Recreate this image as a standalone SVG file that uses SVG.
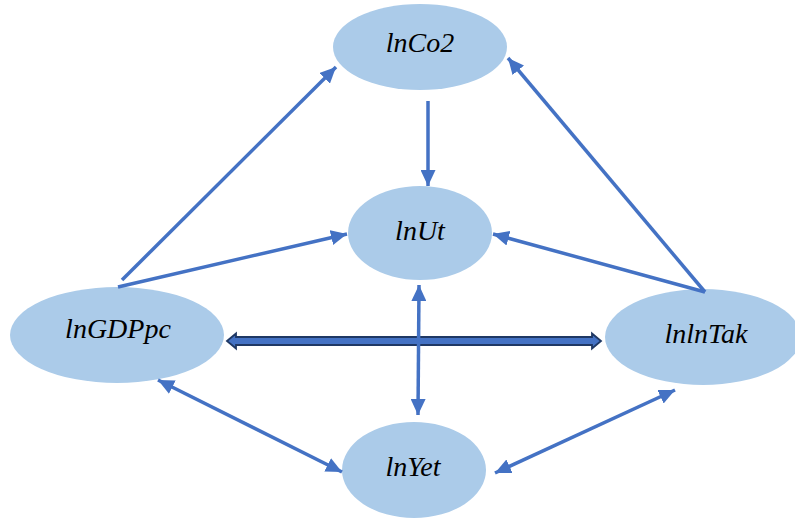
<svg xmlns="http://www.w3.org/2000/svg" width="795" height="524" viewBox="0 0 795 524">
<defs>
<style>
.node{fill:#ABCBE9;}
.lbl{font-family:"Liberation Serif",serif;font-style:italic;font-size:28px;fill:#000;text-anchor:middle;}
.edge{stroke:#4472C4;stroke-width:3.5;fill:none;}
</style>
<marker id="ah" viewBox="0 0 16 15" refX="16" refY="7.5" markerWidth="16" markerHeight="15" markerUnits="userSpaceOnUse" orient="auto-start-reverse">
<path d="M0,0 L16,7.5 L0,15 Z" fill="#4472C4"/>
</marker>
</defs>
<rect width="795" height="524" fill="#fff"/>
<g id="n-lnCo2"><ellipse class="node" cx="420" cy="47" rx="87" ry="43"/><text class="lbl" x="420" y="52">lnCo2</text></g>
<g id="n-lnUt"><ellipse class="node" cx="420" cy="233" rx="72" ry="47"/><text class="lbl" x="420" y="240">lnUt</text></g>
<g id="n-lnGDPpc"><ellipse class="node" cx="117" cy="335" rx="107" ry="48"/><text class="lbl" x="118" y="338">lnGDPpc</text></g>
<g id="n-lnlnTak"><ellipse class="node" cx="703" cy="337" rx="98" ry="48"/><text class="lbl" x="706" y="343">lnlnTak</text></g>
<g id="n-lnYet"><ellipse class="node" cx="414" cy="470" rx="72" ry="48"/><text class="lbl" x="413" y="476">lnYet</text></g>
<g id="connectors">
<path d="M227,341 L236,333.5 L236,337 L592,337 L592,333.5 L601,341 L592,348.5 L592,345 L236,345 L236,348.5 Z" fill="#4472C4" stroke="#1F3864" stroke-width="1.8" stroke-linejoin="miter"/>
<line class="edge" x1="122" y1="280" x2="336" y2="67" marker-end="url(#ah)"/>
<line class="edge" x1="118" y1="287" x2="347" y2="234" marker-end="url(#ah)"/>
<line class="edge" x1="705" y1="292" x2="508" y2="58" marker-end="url(#ah)"/>
<line class="edge" x1="705" y1="292" x2="493" y2="234" marker-end="url(#ah)"/>
<line class="edge" x1="428" y1="101" x2="428" y2="186" marker-end="url(#ah)"/>
<line class="edge" x1="419" y1="285" x2="418" y2="415" marker-start="url(#ah)" marker-end="url(#ah)"/>
<line class="edge" x1="158" y1="380" x2="342" y2="472" marker-start="url(#ah)" marker-end="url(#ah)"/>
<line class="edge" x1="675" y1="390" x2="495" y2="473" marker-start="url(#ah)" marker-end="url(#ah)"/>
</g>
</svg>
